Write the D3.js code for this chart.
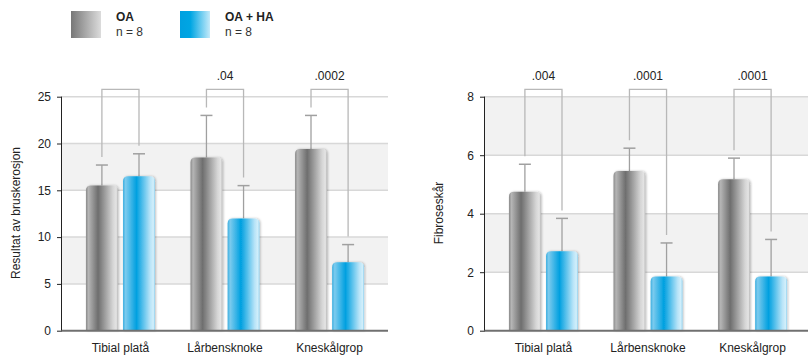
<!DOCTYPE html>
<html><head><meta charset="utf-8">
<script src="https://cdn.jsdelivr.net/npm/d3@7"></script>
<style>body{margin:0;background:#fff;}svg{display:block;font-family:"Liberation Sans",Arial,sans-serif;}</style>
</head><body>
<svg id="c" width="808" height="356"></svg>
<script>
const categories = ["Tibial platå", "Lårbensknoke", "Kneskålgrop"];
const seriesNames = ["OA", "OA + HA"];
const seriesN = ["n = 8", "n = 8"];
// Chart 1: Resultat av bruskerosjon
const erosionOA = [15.5, 18.5, 19.4];
const erosionOAErr = [17.7, 23.0, 23.0];
const erosionHA = [16.5, 12.0, 7.3];
const erosionHAErr = [18.9, 15.5, 9.2];
const erosionP = ["", ".04", ".0002"];
const erosionTicks = [0, 5, 10, 15, 20, 25];
// Chart 2: Fibroseskår
const fibOA = [4.75, 5.46, 5.18];
const fibOAErr = [5.69, 6.24, 5.9];
const fibHA = [2.72, 1.85, 1.85];
const fibHAErr = [3.84, 3.0, 3.12];
const fibP = [".004", ".0001", ".0001"];
const fibTicks = [0, 2, 4, 6, 8];

const svg = d3.select("#c");
const defs = svg.append("defs");
function grad(id, stops){
  const g = defs.append("linearGradient").attr("id", id).attr("x1","0").attr("x2","1").attr("y1","0").attr("y2","0");
  stops.forEach(s => g.append("stop").attr("offset", s[0]).attr("stop-color", s[1]));
}
grad("gGray", [[0,"#8a8a8a"],[0.08,"#b5b5b5"],[0.38,"#6e6e6e"],[0.85,"#d6d6d6"],[0.95,"#e4e4e4"],[1,"#b8b8b8"]]);
grad("gBlue", [[0,"#3aaee0"],[0.08,"#7ccbee"],[0.42,"#00a0e0"],[0.85,"#b8e4f8"],[0.95,"#d2effb"],[1,"#8fd0ee"]]);
grad("gLegGray", [[0,"#777"],[1,"#dcdcdc"]]);
grad("gLegBlue", [[0,"#00a0e0"],[0.35,"#00a6e3"],[1,"#c4eafa"]]);
const f = defs.append("filter").attr("id","sh").attr("x","-20%").attr("y","-20%").attr("width","140%").attr("height","140%");
f.append("feDropShadow").attr("dx",1).attr("dy",0).attr("stdDeviation",1.2).attr("flood-color","#000").attr("flood-opacity",0.25);

// Legend
const legend = svg.append("g");
const legX = [71, 180];
const legFill = ["url(#gLegGray)", "url(#gLegBlue)"];
seriesNames.forEach((n,i) => {
  legend.append("rect").attr("x", legX[i]).attr("y", 11).attr("width", 30).attr("height", 27).attr("fill", legFill[i]);
  legend.append("text").attr("x", legX[i]+45).attr("y", 21).attr("font-size", 12).attr("font-weight","bold").attr("fill","#222").text(n);
  legend.append("text").attr("x", legX[i]+45).attr("y", 36).attr("font-size", 12).attr("fill","#333").text(seriesN[i]);
});

function topRounded(x, y, w, h, r){
  r = Math.min(r, h, w/2);
  return `M${x},${y+h}V${y+r}Q${x},${y} ${x+r},${y}H${x+w-r}Q${x+w},${y} ${x+w},${y+r}V${y+h}Z`;
}

function drawChart(opt){
  const g = svg.append("g");
  const y = d3.scaleLinear().domain([0, opt.max]).range([330.7, 96.7]);
  const x = d3.scaleBand().domain(categories).range([opt.x0, opt.x0 + 326]).paddingInner(0.34).paddingOuter(0.229);
  const xs = d3.scaleBand().domain(seriesNames).range([0, x.bandwidth()]).paddingInner(0.14);
  const ticks = opt.ticks;
  // bands
  for (let i = 0; i < ticks.length - 1; i++) {
    if (i % 2 === 1) {
      g.append("rect").attr("x", opt.x0).attr("y", y(ticks[i+1])).attr("width", 326).attr("height", y(ticks[i]) - y(ticks[i+1])).attr("fill", "#f2f2f2");
    }
  }
  // gridlines
  g.selectAll(".grid").data(ticks.slice(1)).join("line")
    .attr("x1", opt.x0).attr("x2", opt.x0 + 326).attr("y1", d => y(d)).attr("y2", d => y(d))
    .attr("stroke", "#d8d8d8").attr("stroke-width", 1.5);
  // y axis
  const ax = g.append("g").attr("transform", `translate(${opt.x0},0)`)
    .call(d3.axisLeft(y).tickValues(ticks).tickSize(5).tickPadding(6).tickFormat(d3.format("d")));
  ax.select(".domain").attr("stroke", "#222").attr("d", `M-0.5,${y(opt.max)}V${y(0)}`);
  ax.selectAll(".tick line").attr("stroke", "#222");
  ax.selectAll(".tick text").attr("font-size", 12).attr("fill", "#222").attr("font-family", '"Liberation Sans",Arial,sans-serif');
  // axis title
  g.append("text").attr("transform", `translate(${opt.titleX},213) rotate(-90)`).attr("text-anchor","middle")
    .attr("font-size", 12).attr("fill","#222").text(opt.title);
  // bars
  const sets = [
    {name: seriesNames[0], vals: opt.oa, err: opt.oaErr, fill: "url(#gGray)"},
    {name: seriesNames[1], vals: opt.ha, err: opt.haErr, fill: "url(#gBlue)"}
  ];
  sets.forEach(s => {
    categories.forEach((c, i) => {
      const bx = x(c) + xs(s.name), bw = xs.bandwidth();
      const cx = bx + bw/2;
      // error bar
      g.append("line").attr("x1", cx).attr("x2", cx).attr("y1", y(s.vals[i])).attr("y2", y(s.err[i])).attr("stroke", "#a0a0a0").attr("stroke-width", 1.3);
      g.append("line").attr("x1", cx-6).attr("x2", cx+6).attr("y1", y(s.err[i])).attr("y2", y(s.err[i])).attr("stroke", "#a0a0a0").attr("stroke-width", 1.5);
      g.append("path").attr("d", topRounded(bx, y(s.vals[i]), bw, y(0) - y(s.vals[i]), 5))
        .attr("fill", s.fill).attr("filter", "url(#sh)");
    });
  });
  // significance brackets
  const bTop = 89.3;
  categories.forEach((c, i) => {
    const c1 = x(c) + xs(seriesNames[0]) + xs.bandwidth()/2;
    const c2 = x(c) + xs(seriesNames[1]) + xs.bandwidth()/2;
    g.append("path").attr("d", `M${c1},${y(opt.oaErr[i]) - 8}V${bTop}H${c2}V${y(opt.haErr[i]) - 8}`)
      .attr("fill","none").attr("stroke","#b8b8b8").attr("stroke-width",1.3);
    if (opt.p[i]) {
      g.append("text").attr("x", (c1+c2)/2).attr("y", 80).attr("text-anchor","middle").attr("font-size", 12).attr("fill","#222").text(opt.p[i]);
    }
  });
  // baseline
  g.append("line").attr("x1", opt.x0).attr("x2", opt.x0 + 326).attr("y1", y(0)).attr("y2", y(0)).attr("stroke", "#707070").attr("stroke-width", 2);
  // category labels
  g.selectAll(".cat").data(categories).join("text")
    .attr("x", d => x(d) + x.bandwidth()/2).attr("y", 352).attr("text-anchor","middle")
    .attr("font-size", 12).attr("fill","#222").text(d => d);
}

drawChart({x0: 62, max: 25, ticks: erosionTicks, oa: erosionOA, oaErr: erosionOAErr, ha: erosionHA, haErr: erosionHAErr, p: erosionP, title: "Resultat av bruskerosjon", titleX: 19.5});
drawChart({x0: 485, max: 8, ticks: fibTicks, oa: fibOA, oaErr: fibOAErr, ha: fibHA, haErr: fibHAErr, p: fibP, title: "Fibroseskår", titleX: 443});
</script>
</body></html>
